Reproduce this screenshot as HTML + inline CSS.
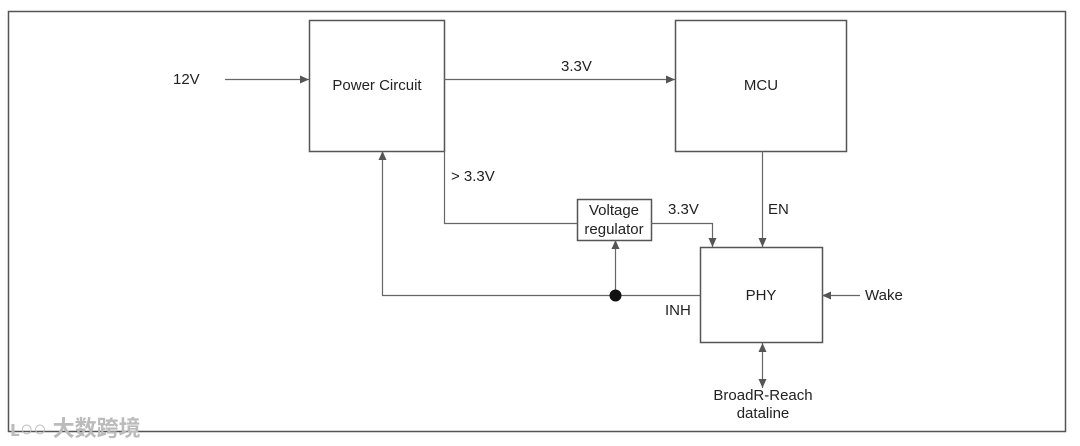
<!DOCTYPE html>
<html><head><meta charset="utf-8"><style>
html,body{margin:0;padding:0;background:#fff;}
svg{display:block;}
text{font-family:"Liberation Sans","Noto Sans CJK SC",sans-serif;fill:#222;font-size:15px;}
</style></head><body>
<svg width="1080" height="446" viewBox="0 0 1080 446" xmlns="http://www.w3.org/2000/svg">
<defs>
<marker id="a" markerWidth="10" markerHeight="10" refX="9" refY="5" orient="auto" markerUnits="userSpaceOnUse">
<path d="M0,1 L9,5 L0,9 Z" fill="#555"/></marker>
<marker id="s" markerWidth="10" markerHeight="10" refX="1" refY="5" orient="auto" markerUnits="userSpaceOnUse">
<path d="M10,1 L1,5 L10,9 Z" fill="#555"/></marker>
</defs>
<rect x="8.5" y="11.5" width="1057" height="420" fill="none" stroke="#555" stroke-width="1.5"/>
<g fill="#fff" stroke="#555" stroke-width="1.5">
<rect x="309.5" y="20.5" width="135" height="131"/>
<rect x="675.5" y="20.5" width="171" height="131"/>
<rect x="700.5" y="247.5" width="122" height="95"/>
<rect x="577.5" y="199.5" width="74" height="41"/>
</g>
<g fill="none" stroke="#666" stroke-width="1.2">
<line x1="225" y1="79.5" x2="309" y2="79.5" marker-end="url(#a)"/>
<line x1="444" y1="79.5" x2="675" y2="79.5" marker-end="url(#a)"/>
<polyline points="444.5,151 444.5,223.5 577,223.5"/>
<polyline points="651,223.5 712.5,223.5 712.5,247" marker-end="url(#a)"/>
<line x1="762.5" y1="151" x2="762.5" y2="247" marker-end="url(#a)"/>
<polyline points="700,295.5 382.5,295.5 382.5,151" marker-end="url(#a)"/>
<line x1="615.5" y1="295" x2="615.5" y2="240" marker-end="url(#a)"/>
<line x1="860" y1="295.5" x2="822" y2="295.5" marker-end="url(#a)"/>
<line x1="762.5" y1="343" x2="762.5" y2="388" marker-start="url(#s)" marker-end="url(#a)"/>
</g>
<circle cx="615.5" cy="295.5" r="6" fill="#111"/>
<text x="173" y="84">12V</text>
<text x="377" y="90" text-anchor="middle">Power Circuit</text>
<text x="761" y="90" text-anchor="middle">MCU</text>
<text x="561" y="71">3.3V</text>
<text x="451" y="181">&gt; 3.3V</text>
<text x="614" y="215" text-anchor="middle">Voltage</text>
<text x="614" y="234" text-anchor="middle">regulator</text>
<text x="668" y="214">3.3V</text>
<text x="768" y="214">EN</text>
<text x="761" y="300" text-anchor="middle">PHY</text>
<text x="865" y="300">Wake</text>
<text x="665" y="315">INH</text>
<text x="763" y="400" text-anchor="middle">BroadR-Reach</text>
<text x="763" y="418" text-anchor="middle">dataline</text>
<text x="10" y="436" style="fill:#bbb;font-size:22px;font-weight:bold">ʟ○○ 大数跨境</text>
</svg>
</body></html>
